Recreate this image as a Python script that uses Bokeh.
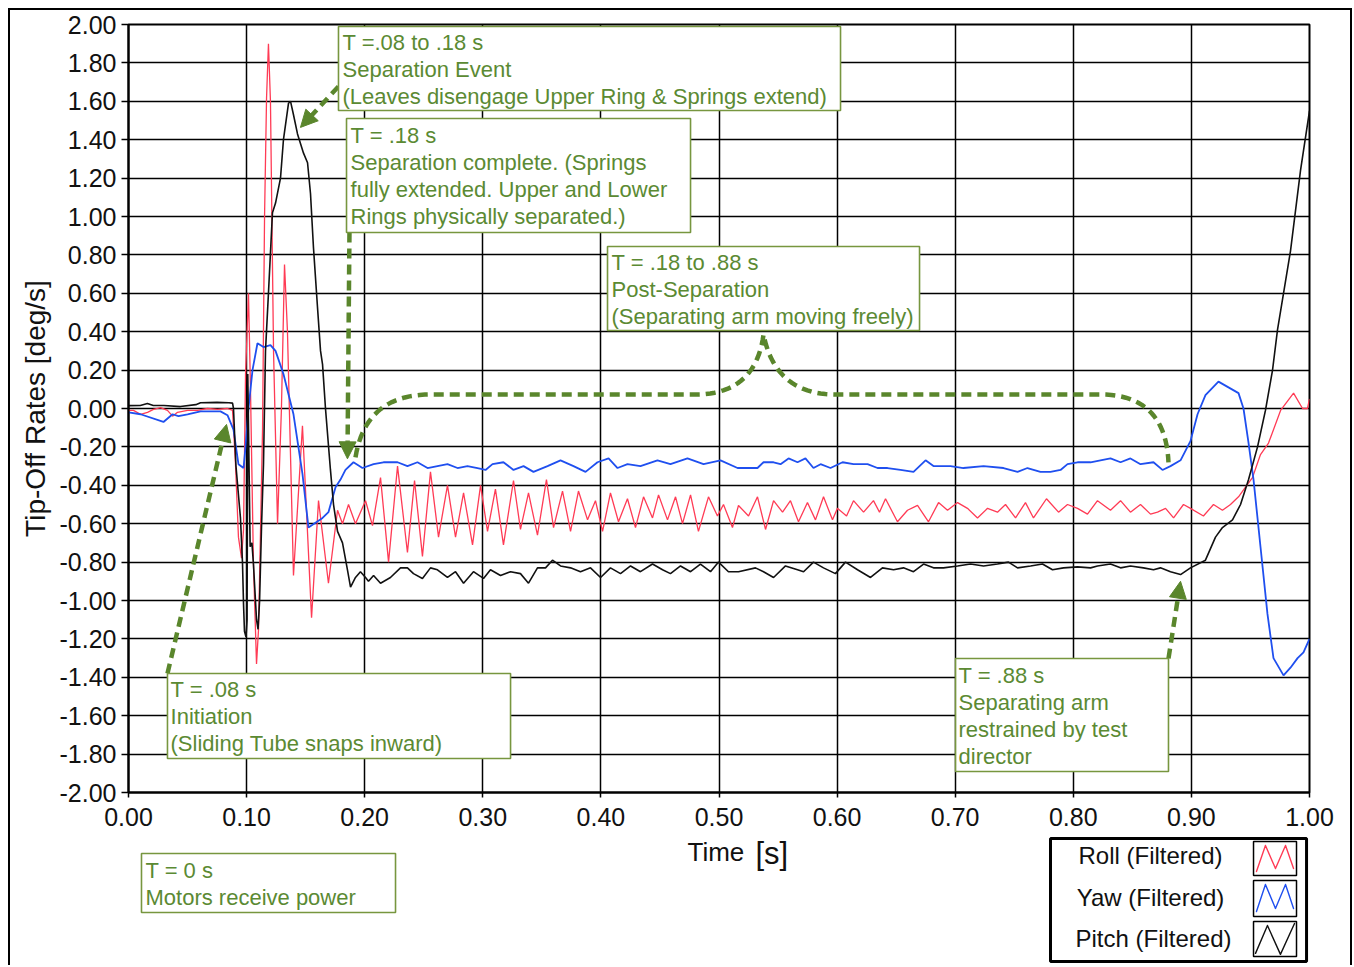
import numpy as np
from bokeh.plotting import figure
from bokeh.layouts import column
from bokeh.models import (Range1d, FixedTicker, NumeralTickFormatter, Label,
                          PolyAnnotation, Arrow, NormalHead)
from bokeh.embed import file_html
from bokeh.resources import INLINE

# ---------------- data ----------------
x_ticks = [0.0, 0.1, 0.2, 0.3, 0.4, 0.5, 0.6, 0.7, 0.8, 0.9, 1.0]
y_ticks = [-2.0, -1.8, -1.6, -1.4, -1.2, -1.0, -0.8, -0.6, -0.4, -0.2, 0.0,
           0.2, 0.4, 0.6, 0.8, 1.0, 1.2, 1.4, 1.6, 1.8, 2.0]

series_names = ["Roll (Filtered)", "Yaw (Filtered)", "Pitch (Filtered)"]

t_roll = [
    0.0000, 0.0042, 0.0102, 0.0161, 0.0212, 0.0271, 0.0330, 0.0373, 0.0415, 0.0500,
    0.0584, 0.0669, 0.0754, 0.0838, 0.0881, 0.0906, 0.0931, 0.0957, 0.0974, 0.0991,
    0.1016, 0.1033, 0.1058, 0.1084, 0.1101, 0.1135, 0.1152, 0.1169, 0.1185, 0.1202,
    0.1228, 0.1262, 0.1295, 0.1321, 0.1346, 0.1397, 0.1473, 0.1550, 0.1609, 0.1693,
    0.1770, 0.1812, 0.1863, 0.1922, 0.2007, 0.2066, 0.2134, 0.2202, 0.2278, 0.2362,
    0.2422, 0.2489, 0.2557, 0.2625, 0.2701, 0.2769, 0.2837, 0.2913, 0.2981, 0.3040,
    0.3107, 0.3175, 0.3260, 0.3319, 0.3387, 0.3463, 0.3539, 0.3599, 0.3675, 0.3743,
    0.3810, 0.3887, 0.3954, 0.4014, 0.4081, 0.4149, 0.4225, 0.4293, 0.4361, 0.4437,
    0.4488, 0.4564, 0.4632, 0.4691, 0.4759, 0.4826, 0.4911, 0.4987, 0.5038, 0.5114,
    0.5165, 0.5250, 0.5326, 0.5394, 0.5462, 0.5538, 0.5605, 0.5673, 0.5749, 0.5817,
    0.5885, 0.5961, 0.6003, 0.6080, 0.6139, 0.6224, 0.6308, 0.6359, 0.6410, 0.6511,
    0.6596, 0.6681, 0.6774, 0.6859, 0.6935, 0.7020, 0.7104, 0.7189, 0.7274, 0.7358,
    0.7426, 0.7511, 0.7595, 0.7663, 0.7773, 0.7875, 0.7951, 0.8036, 0.8120, 0.8205,
    0.8315, 0.8400, 0.8484, 0.8569, 0.8654, 0.8713, 0.8781, 0.8849, 0.8933, 0.8992,
    0.9102, 0.9187, 0.9263, 0.9331, 0.9399, 0.9458, 0.9517, 0.9585, 0.9653, 0.9755,
    0.9865, 0.9941, 0.9983, 1.0000]
roll = [
    -0.01, -0.01, -0.03, -0.02, -0.005, 0.005, -0.01, -0.04, -0.02, -0.01,
    -0.01, 0.00, -0.005, 0.00, -0.01, -0.29, -0.67, -0.78, -0.63, 0.18,
    0.60, 0.10, -0.81, -1.33, -1.15, -0.11, 1.00, 1.62, 1.90, 1.60,
    0.30, -0.60, 0.00, 0.75, 0.40, -0.87, -0.09, -1.09, -0.48, -0.91,
    -0.53, -0.60, -0.50, -0.60, -0.48, -0.61, -0.36, -0.80, -0.30, -0.75,
    -0.375, -0.77, -0.33, -0.67, -0.40, -0.67, -0.44, -0.71, -0.40, -0.64,
    -0.42, -0.71, -0.375, -0.63, -0.44, -0.66, -0.37, -0.62, -0.43, -0.64,
    -0.43, -0.58, -0.48, -0.64, -0.44, -0.59, -0.47, -0.62, -0.46, -0.57,
    -0.45, -0.58, -0.46, -0.60, -0.45, -0.64, -0.46, -0.56, -0.50, -0.62,
    -0.505, -0.56, -0.46, -0.63, -0.48, -0.54, -0.48, -0.59, -0.49, -0.58,
    -0.46, -0.58, -0.52, -0.56, -0.48, -0.54, -0.48, -0.54, -0.47, -0.59,
    -0.53, -0.505, -0.59, -0.49, -0.53, -0.49, -0.52, -0.57, -0.52, -0.54,
    -0.50, -0.57, -0.49, -0.57, -0.47, -0.54, -0.50, -0.52, -0.55, -0.48,
    -0.53, -0.48, -0.54, -0.50, -0.55, -0.54, -0.52, -0.57, -0.50, -0.52,
    -0.56, -0.50, -0.53, -0.50, -0.46, -0.41, -0.36, -0.24, -0.18, -0.01,
    0.08, 0.00, 0.00, 0.05]

t_yaw = [
    0.0000, 0.0102, 0.0296, 0.0373, 0.0423, 0.0500, 0.0610, 0.0779, 0.0838, 0.0889,
    0.0931, 0.0974, 0.0991, 0.1016, 0.1050, 0.1092, 0.1143, 0.1202, 0.1245, 0.1312,
    0.1397, 0.1473, 0.1524, 0.1643, 0.1693, 0.1753, 0.1795, 0.1837, 0.1905, 0.1981,
    0.2075, 0.2159, 0.2278, 0.2362, 0.2447, 0.2532, 0.2616, 0.2701, 0.2786, 0.2870,
    0.2955, 0.3023, 0.3082, 0.3175, 0.3260, 0.3345, 0.3429, 0.3548, 0.3658, 0.3768,
    0.3870, 0.3971, 0.4065, 0.4141, 0.4225, 0.4335, 0.4479, 0.4589, 0.4733, 0.4869,
    0.5013, 0.5157, 0.5326, 0.5377, 0.5462, 0.5521, 0.5589, 0.5665, 0.5732, 0.5800,
    0.5860, 0.5944, 0.6046, 0.6139, 0.6258, 0.6342, 0.6427, 0.6537, 0.6647, 0.6749,
    0.6816, 0.6960, 0.7070, 0.7240, 0.7409, 0.7528, 0.7612, 0.7722, 0.7807, 0.7892,
    0.7951, 0.8036, 0.8146, 0.8230, 0.8315, 0.8400, 0.8484, 0.8569, 0.8679, 0.8755,
    0.8823, 0.8908, 0.8992, 0.9052, 0.9119, 0.9229, 0.9314, 0.9399, 0.9441, 0.9484,
    0.9526, 0.9585, 0.9644, 0.9695, 0.9780, 0.9839, 0.9899, 0.9949, 1.0000]
yaw = [
    -0.02, -0.03, -0.07, -0.03, -0.04, -0.03, -0.015, -0.015, -0.035, -0.11,
    -0.29, -0.31, -0.20, 0.00, 0.20, 0.34, 0.32, 0.33, 0.30, 0.18,
    -0.03, -0.34, -0.62, -0.57, -0.54, -0.41, -0.37, -0.32, -0.28, -0.31,
    -0.29, -0.28, -0.28, -0.30, -0.28, -0.31, -0.30, -0.29, -0.31, -0.30,
    -0.31, -0.32, -0.29, -0.28, -0.32, -0.30, -0.33, -0.30, -0.27, -0.30,
    -0.33, -0.28, -0.26, -0.31, -0.29, -0.30, -0.27, -0.29, -0.26, -0.29,
    -0.27, -0.31, -0.31, -0.28, -0.28, -0.29, -0.26, -0.28, -0.26, -0.31,
    -0.29, -0.31, -0.28, -0.29, -0.29, -0.31, -0.31, -0.32, -0.33, -0.27,
    -0.30, -0.30, -0.31, -0.30, -0.31, -0.33, -0.31, -0.33, -0.33, -0.32,
    -0.29, -0.28, -0.28, -0.27, -0.26, -0.28, -0.26, -0.29, -0.28, -0.32,
    -0.30, -0.27, -0.17, -0.03, 0.07, 0.14, 0.11, 0.08, 0.00, -0.18,
    -0.37, -0.72, -1.07, -1.30, -1.39, -1.35, -1.30, -1.27, -1.20]

t_pitch = [
    0.000, 0.010, 0.016, 0.021, 0.030, 0.044, 0.057, 0.061, 0.075, 0.085,
    0.0881, 0.0889, 0.0910, 0.0948, 0.0965, 0.0974, 0.0982, 0.0995, 0.1004, 0.1010,
    0.1030, 0.1045, 0.1058, 0.1084, 0.1097, 0.1110, 0.1127, 0.1143, 0.1160, 0.1185,
    0.1219, 0.1245, 0.1287, 0.1312, 0.1355, 0.1372, 0.1397, 0.1431, 0.1482, 0.1516,
    0.1541, 0.1566, 0.1600, 0.1626, 0.1643, 0.1668, 0.1710, 0.1736, 0.1770, 0.1812,
    0.1854, 0.1880, 0.1922, 0.1964, 0.2007, 0.2032, 0.2075, 0.2134, 0.2218, 0.2303,
    0.2362, 0.2413, 0.2489, 0.2557, 0.2616, 0.2701, 0.2769, 0.2837, 0.2921, 0.3006,
    0.3065, 0.3150, 0.3235, 0.3319, 0.3387, 0.3463, 0.3531, 0.3590, 0.3658, 0.3743,
    0.3827, 0.3912, 0.3997, 0.4081, 0.4166, 0.4251, 0.4335, 0.4437, 0.4522, 0.4589,
    0.4674, 0.4759, 0.4843, 0.4928, 0.4996, 0.5080, 0.5165, 0.5309, 0.5377, 0.5462,
    0.5563, 0.5665, 0.5716, 0.5800, 0.5885, 0.5986, 0.6071, 0.6173, 0.6283, 0.6384,
    0.6478, 0.6562, 0.6647, 0.6732, 0.6816, 0.6901, 0.7020, 0.7130, 0.7240, 0.7358,
    0.7451, 0.7528, 0.7638, 0.7739, 0.7824, 0.7917, 0.8036, 0.8146, 0.8205, 0.8315,
    0.8400, 0.8484, 0.8594, 0.8679, 0.8738, 0.8823, 0.8908, 0.8992, 0.9119, 0.9204,
    0.9263, 0.9348, 0.9416, 0.9484, 0.9560, 0.9627, 0.9687, 0.9729, 0.9839, 0.9924,
    1.0000]
pitch = [
    0.015, 0.016, 0.026, 0.016, 0.016, 0.010, 0.020, 0.030, 0.032, 0.030,
    0.028, 0.000, -0.30, -0.57, -0.80, -1.02, -1.16, -1.19, -1.10, 0.18,
    -0.72, -0.70, -0.81, -1.10, -1.15, -1.00, -0.60, -0.29, 0.30, 0.60,
    1.02, 1.07, 1.20, 1.40, 1.59, 1.60, 1.53, 1.43, 1.33, 1.28,
    1.12, 0.84, 0.53, 0.30, 0.23, 0.00, -0.32, -0.50, -0.64, -0.70,
    -0.84, -0.93, -0.88, -0.85, -0.88, -0.90, -0.87, -0.91, -0.88, -0.83,
    -0.83, -0.86, -0.885, -0.83, -0.84, -0.88, -0.85, -0.91, -0.85, -0.885,
    -0.84, -0.87, -0.85, -0.86, -0.91, -0.83, -0.83, -0.79, -0.82, -0.83,
    -0.85, -0.83, -0.88, -0.83, -0.86, -0.82, -0.85, -0.81, -0.84, -0.86,
    -0.82, -0.85, -0.81, -0.85, -0.80, -0.85, -0.85, -0.83, -0.85, -0.88,
    -0.82, -0.84, -0.85, -0.80, -0.83, -0.86, -0.80, -0.84, -0.88, -0.83,
    -0.84, -0.83, -0.85, -0.81, -0.83, -0.83, -0.82, -0.81, -0.82, -0.81,
    -0.80, -0.83, -0.82, -0.81, -0.84, -0.83, -0.825, -0.83, -0.82, -0.81,
    -0.83, -0.82, -0.83, -0.84, -0.83, -0.85, -0.865, -0.83, -0.79, -0.67,
    -0.62, -0.58, -0.50, -0.37, -0.20, -0.01, 0.20, 0.41, 0.82, 1.24,
    1.55]

# ---------------- styling / layout ----------------
FONT = "Liberation Sans"
C_ROLL, C_YAW, C_PITCH = "#ff3b55", "#1f4fef", "#111111"
G_TXT, G_BOX, G_ARW = "#5b8a33", "#77963f", "#5a862c"

W = 1352            # page width used
FL, FT = 128, 24    # frame left / top (px)
FW, FH = 1181, 768  # frame width / height (px)
H_MAIN = 834
H_LOW = 131

p = figure(width=W, height=H_MAIN, x_range=Range1d(0, 1), y_range=Range1d(-2, 2),
           output_backend="svg", toolbar_location=None, title=None,
           min_border_left=FL, min_border_right=W - FL - FW, min_border_top=FT,
           min_border_bottom=H_MAIN - FT - FH)
p.background_fill_color = "white"
p.border_fill_color = None
p.outline_line_color = "black"
p.outline_line_width = 2

p.xaxis.ticker = FixedTicker(ticks=x_ticks)
p.yaxis.ticker = FixedTicker(ticks=y_ticks)
p.xaxis.formatter = NumeralTickFormatter(format="0.00")
p.yaxis.formatter = NumeralTickFormatter(format="0.00")
for ax in (p.xaxis[0], p.yaxis[0]):
    ax.major_label_text_font = FONT
    ax.major_label_text_font_size = "25px"
    ax.major_label_text_color = "#111111"
    ax.axis_line_color = "black"
    ax.axis_line_width = 2
    ax.major_tick_line_color = "black"
    ax.major_tick_line_width = 1.5
    ax.major_tick_in = 0
    ax.minor_tick_line_color = None
p.yaxis.major_tick_out = 7
p.yaxis.major_label_standoff = 5
p.xaxis.major_tick_out = 5
p.xaxis.major_label_standoff = 10
p.yaxis.axis_label = "Tip-Off Rates [deg/s]"
p.yaxis.axis_label_text_font = FONT
p.yaxis.axis_label_text_font_size = "28px"
p.yaxis.axis_label_text_font_style = "normal"
p.yaxis.axis_label_text_color = "#111111"
p.yaxis.axis_label_standoff = 6

for g in (p.xgrid[0], p.ygrid[0]):
    g.grid_line_color = "black"
    g.grid_line_width = 1.5
    g.grid_line_alpha = 1.0

# data lines
p.line(t_roll, roll, line_color=C_ROLL, line_width=1.3)
p.line(t_yaw, yaw, line_color=C_YAW, line_width=1.8)
p.line(t_pitch, pitch, line_color=C_PITCH, line_width=1.6)

# dashed brace above the steady-state region
def qbez(p0, c, p2, n=24):
    s = np.linspace(0, 1, n)
    x = (1 - s) ** 2 * p0[0] + 2 * (1 - s) * s * c[0] + s ** 2 * p2[0]
    y = (1 - s) ** 2 * p0[1] + 2 * (1 - s) * s * c[1] + s ** 2 * p2[1]
    return list(x), list(y)

bx, by = [], []
for seg in [((0.1922, -0.255), (0.2007, 0.073), (0.2557, 0.073)),
            ((0.4801, 0.073), (0.5309, 0.073), (0.5377, 0.385)),
            ((0.5377, 0.385), (0.5478, 0.073), (0.5986, 0.073)),
            ((0.8230, 0.073), (0.8781, 0.073), (0.8806, -0.281))]:
    sx, sy = qbez(*seg)
    bx += sx
    by += sy
p.line(bx, by, line_color=G_ARW, line_width=4.5, line_dash="10 6")

# dashed arrows
for (xs, ys, xe, ye) in [(0.1778, 1.677, 0.1456, 1.464),
                         (0.1871, 0.917, 0.1854, -0.262),
                         (0.0330, -1.380, 0.0830, -0.083),
                         (0.8806, -1.302, 0.8908, -0.900)]:
    p.add_layout(Arrow(x_start=xs, y_start=ys, x_end=xe, y_end=ye,
                       line_color=G_ARW, line_width=4.5, line_dash="10 6",
                       end=NormalHead(size=17, fill_color=G_ARW, line_color=G_ARW,
                                      line_width=1)))

def rect(fig, l, r, t, b, color, lw, fill="white"):
    fig.add_layout(PolyAnnotation(xs=[l, r, r, l], ys=[t, t, b, b],
                                  fill_color=fill, fill_alpha=1.0 if fill else 0.0,
                                  line_color=color, line_alpha=1.0, line_width=lw))

LINE = 27 / 192.0

def note(fig, box, pos, lines):
    l, r, t, b = box
    rect(fig, l, r, t, b, G_BOX, 1.6)
    tx, ty = pos
    for i, s in enumerate(lines):
        fig.add_layout(Label(x=tx, y=ty - i * LINE, text=s, text_font=FONT,
                             text_font_size="22px", text_color=G_TXT,
                             text_align="left", text_baseline="middle"))

note(p, (0.1778, 0.6029, 1.9896, 1.5521), (0.1812, 1.906),
     ["T =.08 to .18 s", "Separation Event",
      "(Leaves disengage Upper Ring & Springs extend)"])
note(p, (0.1846, 0.4759, 1.5104, 0.9167), (0.1880, 1.422),
     ["T = .18 s", "Separation complete. (Springs",
      "fully extended. Upper and Lower", "Rings physically separated.)"])
note(p, (0.4056, 0.6698, 0.8438, 0.4063), (0.4090, 0.760),
     ["T = .18 to .88 s", "Post-Separation", "(Separating arm moving freely)"])
note(p, (0.0330, 0.3235, -1.3802, -1.8229), (0.0356, -1.464),
     ["T = .08 s", "Initiation", "(Sliding Tube snaps inward)"])
note(p, (0.7003, 0.8806, -1.3021, -1.8906), (0.7028, -1.391),
     ["T = .88 s", "Separating arm", "restrained by test", "director"])

# ---------------- lower strip (same data coordinates, below the main frame) ----------------
ly_top = 2.0 - (H_MAIN - FT) * 4.0 / FH
ly_bot = ly_top - H_LOW * 4.0 / FH
q = figure(width=W, height=H_LOW, x_range=Range1d(0, 1), y_range=Range1d(ly_bot, ly_top),
           output_backend="svg", toolbar_location=None, title=None,
           x_axis_location=None, y_axis_location=None,
           min_border_left=FL, min_border_right=W - FL - FW, min_border_top=0,
           min_border_bottom=0)
q.grid.grid_line_color = None
q.outline_line_color = None
q.background_fill_color = None
q.border_fill_color = None

note(q, (0.0110, 0.2261, -2.3177, -2.6250), (0.0144, -2.406),
     ["T = 0 s", "Motors receive power"])

# x axis title with a larger unit bracket
q.add_layout(Label(x=0.4733, y=-2.310, text="Time", text_font=FONT,
                   text_font_size="26px", text_color="#111111",
                   text_align="left", text_baseline="middle"))
q.add_layout(Label(x=0.5309, y=-2.320, text="[s]", text_font=FONT,
                   text_font_size="31px", text_color="#111111",
                   text_align="left", text_baseline="middle"))

# legend (label on the left, zig-zag sample on the right)
rect(q, 0.7807, 0.9975, -2.2396, -2.8802, "black", 3)
legend_rows = [
    (series_names[0], C_ROLL, 0.8654, -2.328, (-2.2552, -2.4323),
     [0.9551, 0.9627, 0.9712, 0.9797, 0.9865], [-2.4115, -2.2760, -2.3958, -2.2760, -2.3958]),
    (series_names[1], C_YAW, 0.8654, -2.547, (-2.4583, -2.6458),
     [0.9551, 0.9627, 0.9712, 0.9797, 0.9865], [-2.620, -2.479, -2.604, -2.479, -2.604]),
    (series_names[2], C_PITCH, 0.8679, -2.760, (-2.6719, -2.8542),
     [0.9543, 0.9644, 0.9754, 0.9873], [-2.838, -2.693, -2.843, -2.682]),
]
for name, col, tx, ty, (bt, bb), zx, zy in legend_rows:
    q.add_layout(Label(x=tx, y=ty, text=name, text_font=FONT,
                       text_font_size="24px", text_color="#111111",
                       text_align="center", text_baseline="middle"))
    rect(q, 0.9526, 0.9890, bt, bb, "black", 1.5)
    px_ = zx + zx[-2:0:-1]
    py_ = zy + zy[-2:0:-1]
    q.add_layout(PolyAnnotation(xs=px_, ys=py_, fill_alpha=0.0, fill_color=None,
                                line_color=col, line_alpha=1.0, line_width=1.4,
                                line_join="round"))

# outer page frame painted behind the (transparent) canvas borders
frame_css = {
    "background-color": "white",
    "background-image": "linear-gradient(#000,#000), linear-gradient(#000,#000), "
                        "linear-gradient(#000,#000)",
    "background-size": "2px 100%, 100% 2px, 2px 100%",
    "background-position": "8px 8px, 8px 8px, 1350px 8px",
    "background-repeat": "no-repeat",
}
layout = column(p, q, styles=frame_css)

open("out.html", "w").write(file_html(layout, INLINE))
